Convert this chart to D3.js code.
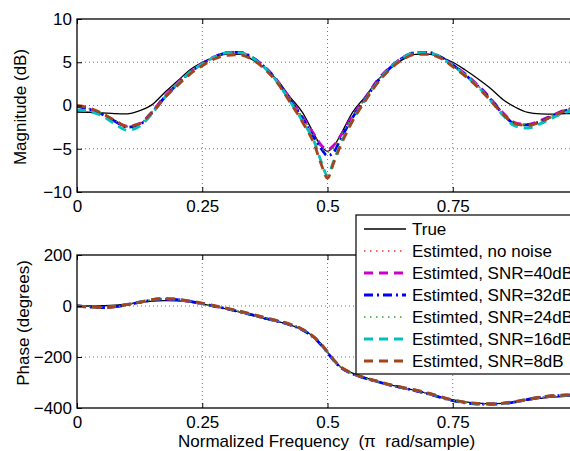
<!DOCTYPE html>
<html><head><meta charset="utf-8">
<script src="https://cdn.jsdelivr.net/npm/d3@7"></script>
<style>
body{margin:0;background:#fff;}
svg{display:block;font-family:"Liberation Sans",Arial,Helvetica,sans-serif;}
</style></head><body>
<svg id="c" width="570" height="451"></svg>
<script>
// ---- data ----
const freq = [0,0.025,0.05,0.075,0.1,0.125,0.15,0.175,0.2,0.225,0.25,0.275,0.3,0.325,0.35,0.375,0.4,0.425,0.45,0.475,0.4875,0.5,0.5125,0.525,0.55,0.575,0.6,0.625,0.65,0.675,0.7,0.725,0.75,0.775,0.8,0.825,0.85,0.875,0.9,0.925,0.95,0.975,1];

const magTrue  = [-0.75,-0.78,-0.85,-0.93,-0.96,-0.6,0.1,1.5,2.8,4.1,5.0,5.6,5.95,5.9,5.3,4.3,2.9,1.0,-0.8,-3.5,-4.7,-5.3,-4.7,-3.5,-0.8,1.0,2.9,4.3,5.3,5.9,5.95,5.6,5.0,4.1,3.1,2.0,0.7,-0.2,-0.8,-0.97,-1.0,-0.95,-0.9];
const magNoNoise = [-0.05,-0.35,-0.9,-1.75,-2.45,-2.15,-0.75,1.0,2.5,3.8,4.8,5.6,6.1,6.1,5.5,4.4,2.8,0.7,-1.4,-3.7,-4.8,-5.3,-4.8,-3.7,-1.3,0.8,2.9,4.4,5.5,6.1,6.1,5.6,4.7,3.6,2.3,0.8,-0.9,-2.1,-2.2,-1.8,-1.15,-0.55,-0.3];
const mag40dB  = [-0.1,-0.4,-0.95,-1.8,-2.4,-2.1,-0.7,1.05,2.55,3.85,4.85,5.65,6.15,6.1,5.5,4.45,2.85,0.8,-1.3,-3.5,-4.6,-5.1,-4.6,-3.6,-1.2,0.85,2.95,4.45,5.55,6.15,6.1,5.6,4.7,3.65,2.35,0.85,-0.85,-2.0,-2.2,-1.75,-1.1,-0.5,-0.25];
const mag32dB  = [-0.1,-0.45,-1.0,-1.8,-2.5,-2.2,-0.8,0.95,2.45,3.8,4.8,5.6,6.1,6.15,5.55,4.4,2.8,0.7,-1.5,-3.9,-5.0,-5.8,-5.4,-4.0,-1.4,0.7,2.8,4.35,5.5,6.1,6.15,5.65,4.7,3.55,2.25,0.75,-0.95,-2.15,-2.25,-1.85,-1.2,-0.6,-0.3];
const mag24dB  = [-0.05,-0.4,-0.9,-1.7,-2.4,-2.1,-0.7,1.0,2.5,3.85,4.8,5.6,6.05,6.05,5.45,4.4,2.85,0.75,-1.35,-3.7,-4.9,-5.4,-4.9,-3.7,-1.3,0.8,2.9,4.4,5.5,6.05,6.05,5.6,4.65,3.6,2.3,0.8,-0.9,-2.05,-2.2,-1.8,-1.1,-0.5,-0.3];
const mag16dB  = [-0.5,-0.7,-1.2,-2.1,-2.85,-2.4,-0.9,0.9,2.45,3.8,4.8,5.6,6.1,6.1,5.5,4.35,2.7,0.5,-1.8,-4.4,-6.5,-8.1,-6.4,-4.6,-1.7,0.6,2.7,4.35,5.5,6.1,6.1,5.6,4.6,3.5,2.2,0.6,-1.1,-2.4,-2.6,-2.1,-1.4,-0.8,-0.5];
const mag8dB   = [0.0,-0.3,-0.9,-1.7,-2.4,-2.1,-0.8,0.9,2.3,3.6,4.6,5.4,5.8,5.85,5.3,4.2,2.6,0.4,-1.9,-4.7,-6.8,-8.4,-6.6,-4.8,-1.8,0.5,2.6,4.2,5.3,5.9,5.9,5.5,4.5,3.4,2.1,0.6,-1.0,-2.1,-2.3,-1.9,-1.2,-0.6,-0.3];

const phTrue   = [0,0,1,3,8,14,19,21,20,15,8,-2,-12,-24,-37,-50,-61,-74,-92,-125,-150,-180,-212,-237,-263,-281,-296,-309,-320,-331,-343,-356,-368,-376,-381,-383,-382,-377,-369,-362,-357,-354,-352];
const phNoNoise = [0,-3,-5,-3,5,15,24,28,25,18,9,-1,-11,-22,-34,-47,-59,-73,-93,-127,-152,-182,-213,-238,-266,-283,-297,-310,-321,-331,-343,-357,-370,-379,-384,-385,-383,-376,-367,-359,-354,-351,-350];
const ph40dB   = [0,-3,-5,-2,6,15,24,27,25,18,9,-1,-11,-22,-35,-47,-59,-73,-93,-126,-151,-181,-212,-238,-266,-283,-297,-310,-321,-332,-344,-357,-370,-379,-384,-385,-382,-376,-367,-359,-354,-351,-350];
const ph32dB   = [0,-4,-6,-3,5,14,23,27,25,18,9,-1,-11,-23,-35,-48,-60,-74,-94,-128,-153,-183,-214,-239,-266,-283,-297,-310,-321,-332,-344,-358,-371,-380,-385,-385,-383,-376,-366,-358,-353,-350,-349];
const ph24dB   = [0,-3,-5,-3,5,15,24,28,25,18,9,-1,-11,-22,-34,-47,-59,-73,-93,-127,-152,-182,-213,-238,-266,-283,-297,-310,-321,-331,-343,-357,-370,-379,-384,-385,-383,-376,-367,-359,-354,-351,-350];
const ph16dB   = [0,-3,-5,-2,6,16,25,29,26,19,10,0,-10,-21,-33,-46,-58,-72,-92,-126,-151,-181,-212,-237,-265,-282,-296,-309,-320,-330,-342,-356,-369,-378,-383,-384,-382,-375,-366,-358,-353,-350,-349];
const ph8dB    = [0,-4,-6,-3,5,15,25,29,27,20,11,1,-9,-20,-32,-45,-57,-71,-91,-125,-150,-180,-211,-236,-264,-281,-295,-308,-319,-329,-341,-355,-368,-377,-382,-383,-381,-374,-365,-357,-352,-349,-348];

const magTicks = [-10,-5,0,5,10];
const phTicks = [-400,-200,0,200];
const freqTicks = [0,0.25,0.5,0.75];
const legendLabels = ["True","Estimted, no noise","Estimted, SNR=40dB","Estimted, SNR=32dB","Estimted, SNR=24dB","Estimted, SNR=16dB","Estimted, SNR=8dB"];

// ---- styles per series ----
const styles = [
  {color:"#000000", w:1.3, dash:null},
  {color:"#ff3030", w:1.5, dash:"1.5,4.5"},
  {color:"#cc00cc", w:2.8, dash:"9,6"},
  {color:"#0000ff", w:2.8, dash:"9,4,2,4"},
  {color:"#33a033", w:1.5, dash:"1.5,4.5"},
  {color:"#00c0c0", w:2.8, dash:"9,6"},
  {color:"#a4431c", w:2.8, dash:"9,6"}
];
const magSeries = [magTrue,magNoNoise,mag40dB,mag32dB,mag24dB,mag16dB,mag8dB];
const phSeries = [phTrue,phNoNoise,ph40dB,ph32dB,ph24dB,ph16dB,ph8dB];

const svg = d3.select("#c");
const x = d3.scaleLinear([0,1],[77,578]);
const fmt = d3.format("");
const FS = 17;

function panel(y, ticks, series, clipId, top, bottom, ylabel, ylx, yly) {
  const g = svg.append("g");
  // grid
  const gx = freqTicks.filter(t => t > 0);
  g.selectAll(".gv").data(gx).join("line")
    .attr("x1", d => x(d)).attr("x2", d => x(d))
    .attr("y1", top).attr("y2", bottom)
    .attr("stroke", "#777").attr("stroke-width", 1).attr("stroke-dasharray", "1,3");
  const gy = ticks.filter(t => t > y.domain()[0] && t < y.domain()[1]);
  g.selectAll(".gh").data(gy).join("line")
    .attr("x1", x(0)).attr("x2", x(1))
    .attr("y1", d => y(d)).attr("y2", d => y(d))
    .attr("stroke", "#777").attr("stroke-width", 1).attr("stroke-dasharray", "1,3");

  svg.append("clipPath").attr("id", clipId).append("rect")
    .attr("x", x(0)).attr("y", top).attr("width", x(1)-x(0)).attr("height", bottom-top);
  const lg = g.append("g").attr("clip-path", `url(#${clipId})`);
  const line = d3.line().x((d,i) => x(freq[i])).y(d => y(d)).curve(d3.curveMonotoneX);
  series.forEach((s, i) => {
    const st = styles[i];
    lg.append("path").attr("d", line(s)).attr("fill", "none")
      .attr("stroke", st.color).attr("stroke-width", st.w)
      .attr("stroke-dasharray", st.dash)
      .attr("stroke-linejoin", "round");
  });

  // axes
  const ax = g.append("g").attr("transform", `translate(${x(0)},0)`)
    .call(d3.axisLeft(y).tickValues(ticks).tickFormat(fmt).tickSize(-5).tickPadding(5));
  const bx = g.append("g").attr("transform", `translate(0,${bottom})`)
    .call(d3.axisBottom(x).tickValues(freqTicks).tickFormat(fmt).tickSize(-5).tickPadding(8));
  const tx = g.append("g").attr("transform", `translate(0,${top})`)
    .call(d3.axisTop(x).tickValues(freqTicks).tickFormat("").tickSize(-5));
  [ax,bx,tx].forEach(a => {
    a.select(".domain").remove();
    a.selectAll("text").attr("font-size", FS).attr("font-family", "Liberation Sans, Arial, sans-serif").attr("fill","#000");
    a.selectAll("line").attr("stroke", "#000");
  });
  // box
  g.append("rect").attr("x", x(0)).attr("y", top).attr("width", x(1)-x(0)).attr("height", bottom-top)
    .attr("fill", "none").attr("stroke", "#000").attr("stroke-width", 1.3);
  // ylabel
  svg.append("text").attr("transform", `translate(${ylx},${yly}) rotate(-90)`)
    .attr("text-anchor", "middle").attr("font-size", FS).text(ylabel);
}

const yMag = d3.scaleLinear([-10,10],[192,19]);
const yPh = d3.scaleLinear([-400,200],[408,255]);
panel(yMag, magTicks, magSeries, "clipMag", 19, 192, "Magnitude (dB)", 26, 107);
panel(yPh, phTicks, phSeries, "clipPh", 255, 408, "Phase (degrees)", 29, 323);

// x label
svg.append("text").attr("x", 178).attr("y", 447).attr("font-size", FS)
  .style("white-space", "pre").text("Normalized Frequency  (\u03c0  rad/sample)");

// legend
const leg = svg.append("g");
leg.append("rect").attr("x", 356).attr("y", 215).attr("width", 240).attr("height", 159)
  .attr("fill", "#fff").attr("stroke", "#000").attr("stroke-width", 1.2);
const rowY = d3.scalePoint().domain(d3.range(legendLabels.length)).range([229, 361]);
legendLabels.forEach((lab, i) => {
  const st = styles[i];
  leg.append("line").attr("x1", 364).attr("x2", 406).attr("y1", rowY(i)).attr("y2", rowY(i))
    .attr("stroke", st.color).attr("stroke-width", st.w).attr("stroke-dasharray", st.dash);
  leg.append("text").attr("x", 412).attr("y", rowY(i)).attr("dy", "0.36em")
    .attr("font-size", FS).text(lab);
});
</script></body></html>
